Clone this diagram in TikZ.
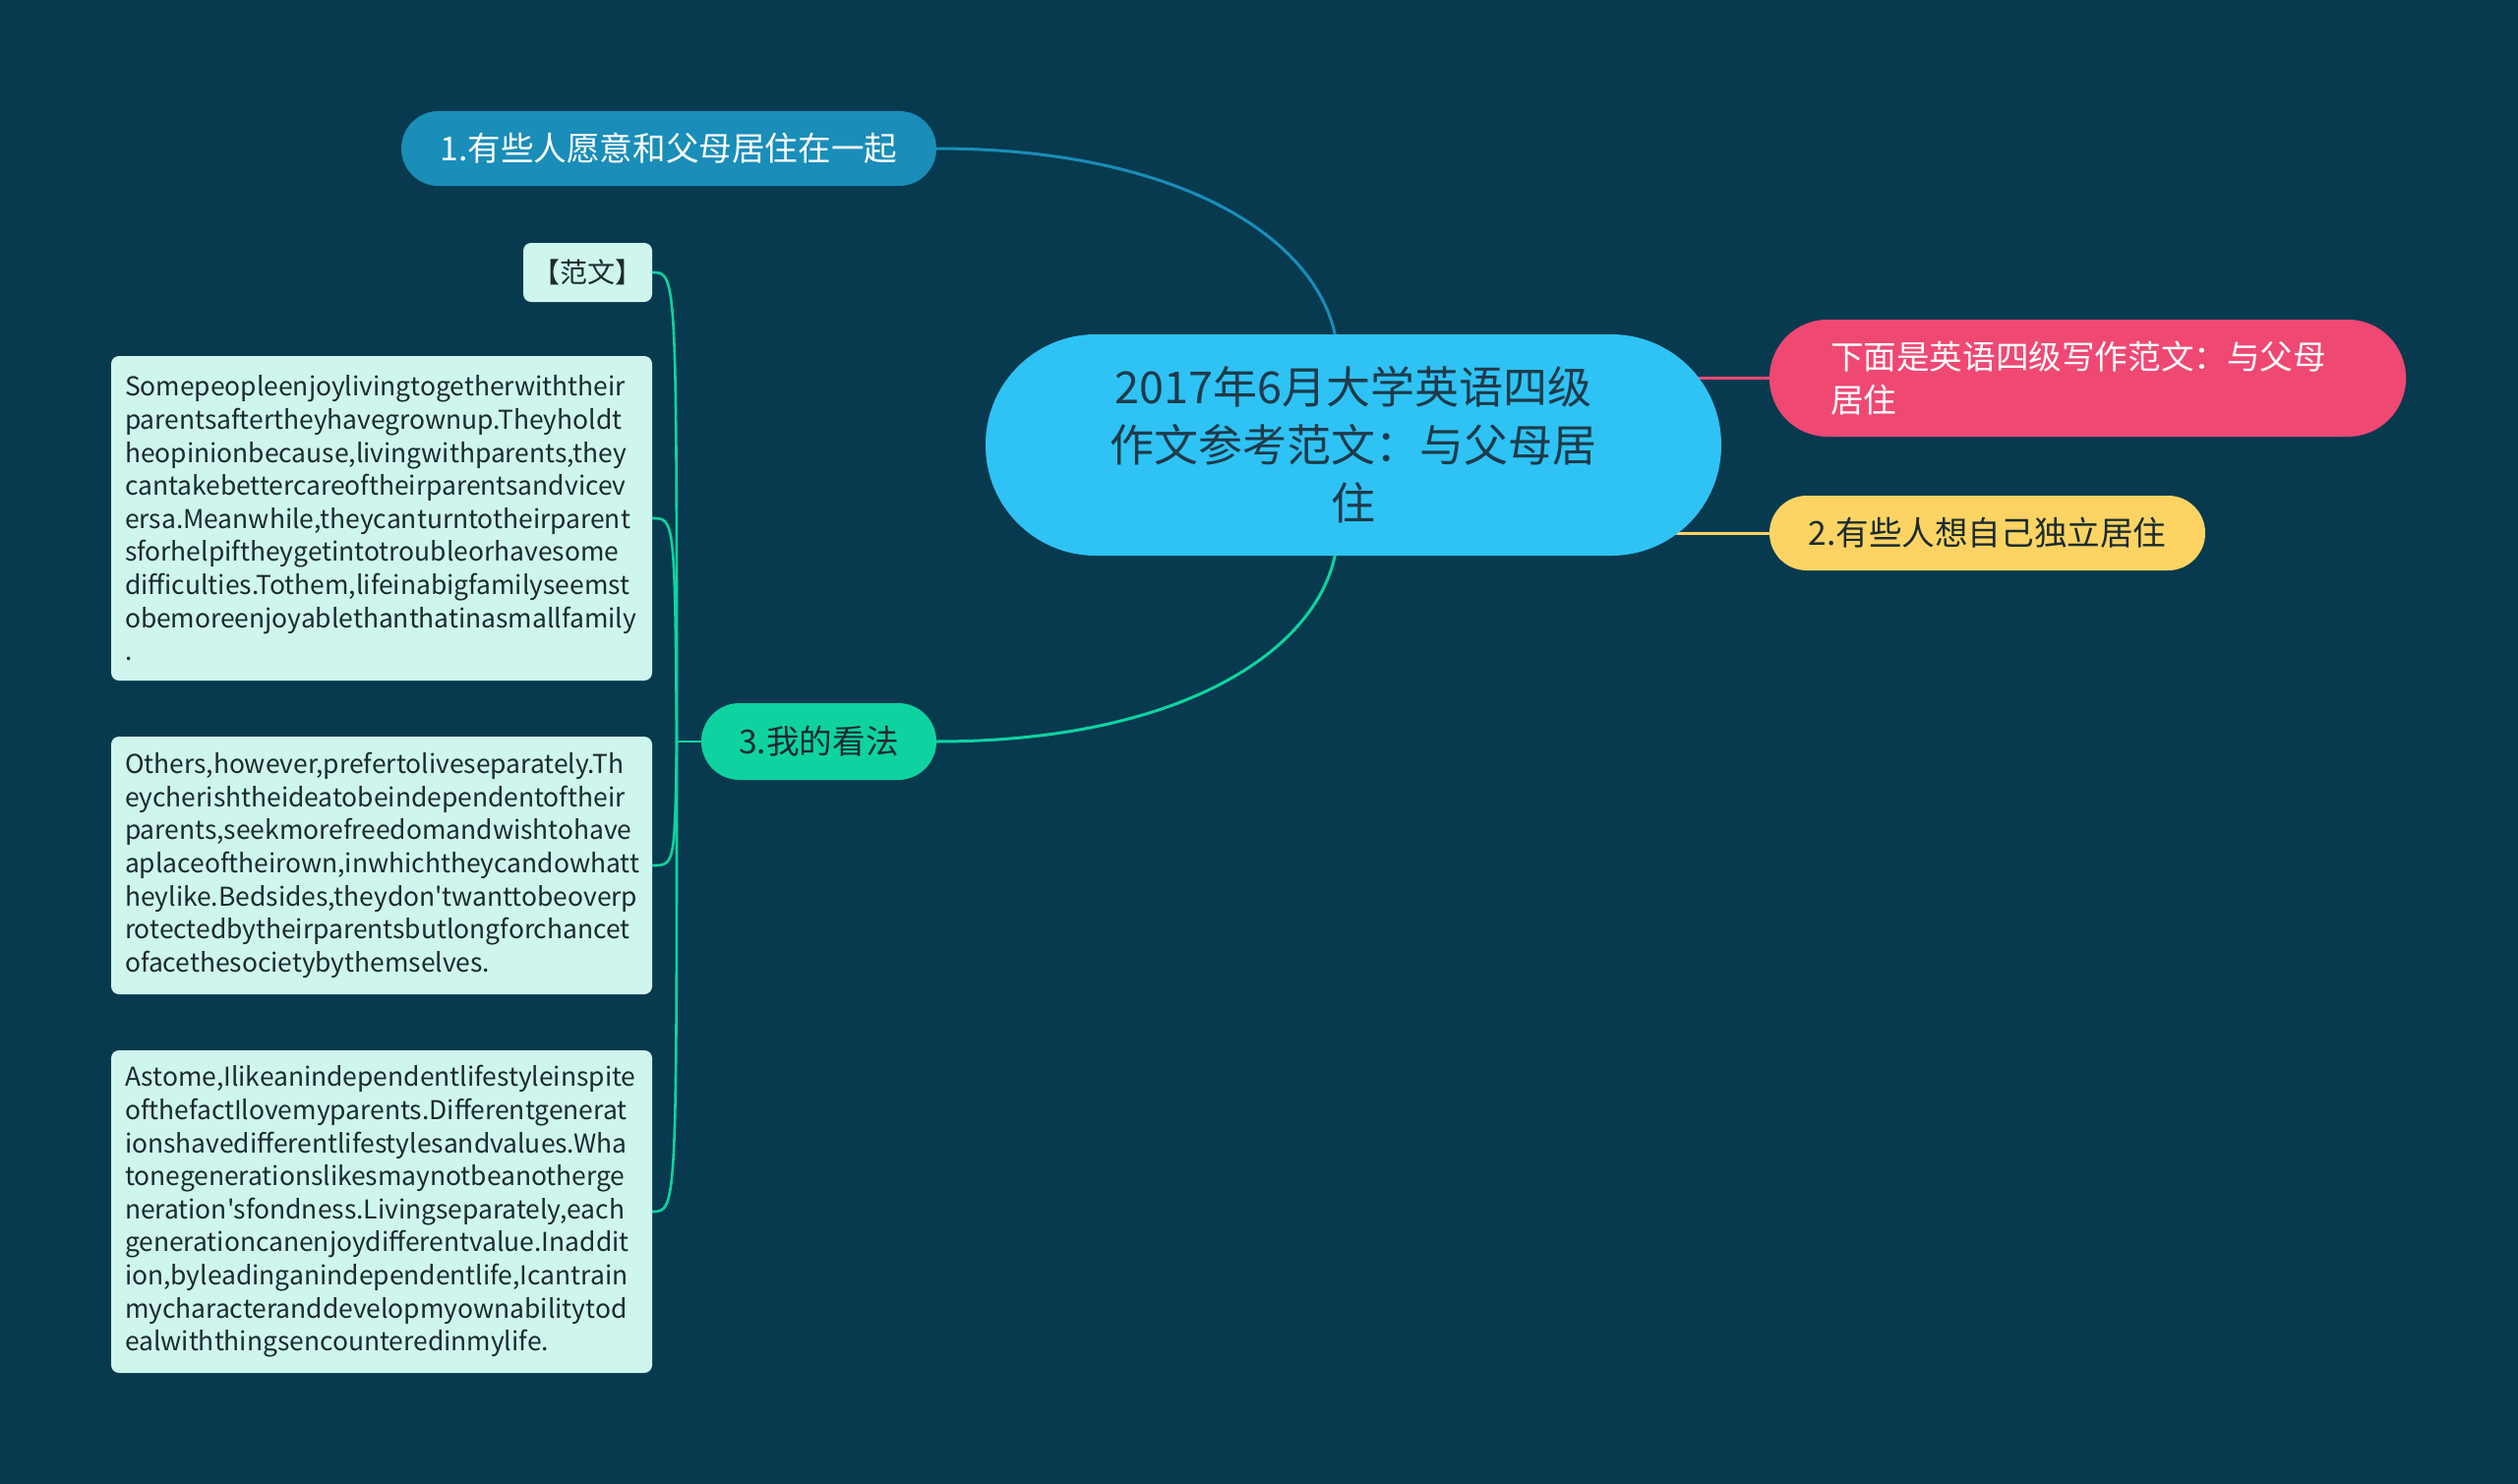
\documentclass[tikz,border=0pt]{standalone}
\usepackage{fontspec}
\setmainfont{Noto Sans CJK SC}
\newfontfamily\leaffam{Noto Sans CJK SC}
\usetikzlibrary{backgrounds}
\definecolor{bg}{HTML}{073A4F}
\definecolor{cmain}{HTML}{2EC3F4}
\definecolor{ctxt}{HTML}{1E3A4A}
\definecolor{cone}{HTML}{1A8DB9}
\definecolor{cpink}{HTML}{EF4873}
\definecolor{cyel}{HTML}{FDD463}
\definecolor{cgreen}{HTML}{0ED3A0}
\definecolor{cleaf}{HTML}{CFF6EE}
\definecolor{cdark}{HTML}{1B2B2E}
\newcommand{\leaffnt}{\leaffam\fontsize{13.2pt}{16.8pt}\selectfont\hyphenpenalty=10000\exhyphenpenalty=10000}
\newcommand{\topfnt}{\fontsize{16.8pt}{22pt}\selectfont}
\begin{document}
\begin{tikzpicture}[x=0.5pt,y=-0.5pt,
  box/.style={rectangle, inner sep=0pt, outer sep=0pt},
  topicbox/.style={box, minimum height=38pt, rounded corners=18.9pt, font=\topfnt},
  leafbox/.style={box, fill=cleaf, text=cdark, rounded corners=4pt, font=\leaffnt},
  leaftext/.style={leafbox, minimum width=275pt, text width=261pt, align=left},
  conn/.style={line width=1.5pt},
  leafconn/.style={line width=1.3pt, draw=cgreen}
]
\useasboundingbox (0,0) rectangle (2560,1509);

\node[box, fill=cmain, text=ctxt, minimum width=374pt, minimum height=112.5pt,
  rounded corners=56pt, align=center, font=\fontsize{22.5pt}{29.5pt}\selectfont]
  (central) at (1376,452.5) {2017年6月大学英语四级\\作文参考范文：与父母居\\住};

\node[topicbox, fill=cone, text=white, minimum width=272pt] (t1) at (680,151)
  {1.有些人愿意和父母居住在一起};
\node[box, fill=cpink, text=white, minimum width=323.5pt, minimum height=59.5pt,
  rounded corners=29.5pt, text width=261.5pt, align=left, font=\topfnt]
  (pink) at (2122.5,384.5) {下面是英语四级写作范文：与父母\\居住};
\node[topicbox, fill=cyel, text=cdark, minimum width=221.5pt] (yel) at (2020.5,542)
  {2.有些人想自己独立居住};
\node[topicbox, fill=cgreen, text=cdark, minimum width=119.5pt, minimum height=39pt,
  rounded corners=19.4pt] (t3) at (832.5,754) {3.我的看法};

\node[leafbox, font=\topfnt\fontsize{14pt}{16.8pt}\selectfont, minimum width=65.5pt, minimum height=30pt] (fan) at (597.5,277) {【范文】};

\node[leaftext, minimum height=165pt] (l1) at (388,527)
{Somepeopleenjoylivingtogetherwiththeir\\
parentsaftertheyhavegrownup.Theyholdt\\
heopinionbecause,livingwithparents,they\\
cantakebettercareoftheirparentsandvicev\\
ersa.Meanwhile,theycanturntotheirparent\\
sforhelpiftheygetintotroubleorhavesome\\
difficulties.Tothem,lifeinabigfamilyseemst\\
obemoreenjoyablethanthatinasmallfamily\\
.};

\node[leaftext, minimum height=131pt] (l2) at (388,880)
{Others,however,prefertoliveseparately.Th\\
eycherishtheideatobeindependentoftheir\\
parents,seekmorefreedomandwishtohave\\
aplaceoftheirown,inwhichtheycandowhatt\\
heylike.Bedsides,theydon't{}wanttobeoverp\\
rotectedbytheirparentsbutlongforchancet\\
ofacethesocietybythemselves.};

\node[leaftext, minimum height=164pt] (l3) at (388,1232)
{Astome,Ilikeanindependentlifestyleinspite\\
ofthefactIlovemyparents.Differentgenerat\\
ionshavedifferentlifestylesandvalues.Wha\\
tonegenerationslikesmaynotbeanotherge\\
neration'sfondness.Livingseparately,each\\
generationcanenjoydifferentvalue.Inaddit\\
ion,byleadinganindependentlife,Icantrain\\
mycharacteranddevelopmyownabilitytod\\
ealwiththingsencounteredinmylife.};

\begin{pgfonlayer}{background}
\fill[bg] (0,0) rectangle (2560,1509);
\coordinate (ctop) at ([xshift=-9pt]central.north);
\coordinate (cbot) at ([xshift=-9pt]central.south);
\draw[conn, draw=cone] (t1.east) .. controls +(250,0) and +(-18,-100) .. ([yshift=-2pt]ctop);
\draw[conn, draw=cgreen] (t3.east) .. controls +(250,0) and +(-18,100) .. ([yshift=2pt]cbot);
\draw[conn, draw=cpink] (central.center |- pink.west) -- (pink.west);
\draw[conn, draw=cyel] (central.center |- yel.west) -- (yel.west);
\coordinate (trunk) at ([xshift=-12.5pt]t3.west);
\draw[leafconn] (t3.west) -- (trunk);
\draw[leafconn] (trunk) .. controls (trunk |- fan.east) .. (fan.east);
\draw[leafconn] (trunk) .. controls ([xshift=-1pt]trunk |- l1.east) .. (l1.east);
\draw[leafconn] (trunk) .. controls ([xshift=-1pt]trunk |- l2.east) .. (l2.east);
\draw[leafconn] (trunk) .. controls (trunk |- l3.east) .. (l3.east);
\end{pgfonlayer}
\end{tikzpicture}
\end{document}
